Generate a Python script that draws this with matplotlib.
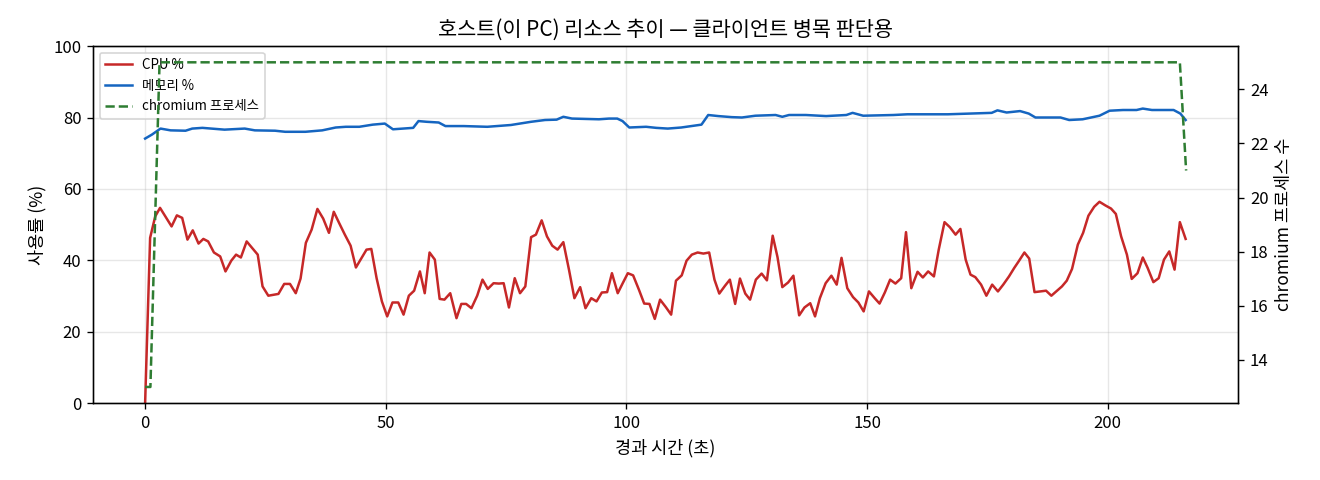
import matplotlib
matplotlib.use('Agg')
import matplotlib.pyplot as plt

plt.rcParams['font.family'] = ['Noto Sans CJK KR', 'DejaVu Sans']
plt.rcParams['axes.unicode_minus'] = False

cpu_t = [0, 1.04, 2.1, 3.1, 5.5, 6.6, 7.7, 8.8, 9.9, 11.1, 12.1, 13.1, 14.3, 15.6, 16.7, 17.9,
         18.9, 19.9, 21.1, 23.4, 24.4, 25.6, 27.7, 28.9, 30.1, 31.3, 32.3, 33.4, 34.6, 35.8,
         37.0, 38.2, 39.2, 40.3, 41.5, 42.7, 43.8, 46.0, 47.0, 48.1, 49.2, 50.3, 51.4, 52.6,
         53.7, 54.8, 55.9, 57.1, 58.1, 59.1, 60.2, 61.2, 62.2, 63.4, 64.7, 65.7, 66.7, 67.8,
         69.0, 70.1, 71.2, 72.4, 73.5, 74.5, 75.6, 76.8, 77.9, 79.0, 80.2, 81.2, 82.4, 83.5,
         84.6, 85.7, 86.9, 88.1, 89.2, 90.4, 91.5, 92.7, 93.8, 94.9, 96.0, 97.0, 98.2, 99.2,
         100.3, 101.4, 102.6, 103.7, 104.8, 105.9, 107.0, 108.2, 109.3, 110.3, 111.5, 112.5,
         113.6, 114.8, 116.0, 117.2, 118.3, 119.3, 120.5, 121.5, 122.6, 123.6, 124.7, 125.7,
         126.9, 128.1, 129.2, 130.4, 131.4, 132.4, 133.6, 134.7, 135.9, 137.0, 138.2, 139.2,
         140.2, 141.4, 142.6, 143.7, 144.7, 145.9, 147.1, 148.2, 149.3, 150.4, 151.6, 152.6,
         153.7, 154.8, 155.9, 157.1, 158.1, 159.2, 160.5, 161.6, 162.7, 163.9, 164.9, 166.1,
         167.2, 168.4, 169.4, 170.5, 171.5, 172.5, 173.7, 174.8, 176.0, 177.2, 178.3, 179.5,
         180.6, 181.5, 182.7, 183.7, 184.8, 186.0, 187.2, 188.3, 189.3, 190.5, 191.5, 192.6,
         193.8, 194.9, 196.0, 197.2, 198.3, 199.5, 200.7, 201.7, 202.8, 204.0, 205.0, 206.2,
         207.3, 208.3, 209.5, 210.6, 211.7, 212.8, 213.9, 215.0, 216.2]
cpu = [0, 46.3, 52.3, 54.7, 49.5, 52.6, 51.9, 45.8, 48.4, 44.7, 46.0, 45.3, 42.2, 41.1, 36.9, 39.9,
       41.6, 40.8, 45.3, 41.6, 32.7, 30.1, 30.6, 33.4, 33.4, 30.8, 34.9, 44.9, 48.6, 54.4,
       51.7, 47.7, 53.6, 50.5, 47.2, 44.1, 38.0, 43.0, 43.2, 35.0, 28.5, 24.3, 28.2, 28.2,
       24.8, 30.1, 31.5, 36.9, 30.8, 42.2, 40.2, 29.2, 29.0, 30.8, 23.8, 27.8, 27.8, 26.6,
       30.1, 34.6, 32.0, 33.6, 33.5, 33.6, 26.8, 35.0, 30.8, 32.7, 46.5, 47.2, 51.2, 46.7,
       44.1, 43.0, 45.1, 37.2, 29.4, 32.5, 26.6, 29.4, 28.5, 31.0, 31.1, 36.4, 30.8, 33.5,
       36.4, 35.8, 31.8, 27.9, 27.8, 23.6, 29.0, 26.9, 24.8, 34.3, 35.8, 39.9,
       41.6, 42.2, 41.9, 42.2, 34.6, 30.7, 32.9, 34.6, 27.8, 34.9, 30.7, 29.0,
       34.6, 36.3, 34.4, 46.9, 40.9, 32.5, 33.8, 35.7, 24.6, 26.8, 28.0, 24.3,
       29.4, 33.6, 35.7, 33.2, 40.7, 32.2, 29.7, 28.2, 25.7, 31.3, 29.4, 27.9,
       31.0, 34.6, 33.5, 35.0, 47.9, 32.2, 36.8, 35.2, 36.9, 35.5, 43.0, 50.7,
       49.3, 47.2, 48.8, 40.2, 36.0, 35.3, 33.2, 30.1, 33.2, 31.3, 33.2, 35.5,
       37.9, 39.7, 42.2, 40.5, 31.1, 31.3, 31.5, 30.1, 31.3, 32.7, 34.3, 37.6,
       44.4, 47.7, 52.5, 55.0, 56.4, 55.4, 54.5, 53.0, 46.7, 41.6, 34.8, 36.4,
       40.8, 37.9, 33.9, 35.0, 40.2, 42.5, 37.4, 50.7, 46.0]

mem_t = [0, 1.4, 3.2, 5.3, 8.4, 9.8, 11.9, 16.5, 20.7, 22.8, 27.0, 29.1, 33.3, 36.8, 39.6, 41.7,
         44.5, 47.3, 49.8, 51.5, 55.7, 56.8, 58.5, 61.0, 62.4, 66.2, 71.1, 76.0, 80.2, 83.1,
         85.5, 86.9, 88.7, 94.3, 96.4, 98.1, 99.2, 100.6, 104.1, 106.2, 108.6, 111.4, 115.6,
         117.0, 119.1, 121.9, 124.0, 126.8, 131.0, 132.4, 133.8, 137.3, 141.5, 145.7, 147.0,
         149.2, 155.5, 158.4, 166.8, 175.9, 177.1, 179.0, 181.8, 183.6, 185.0, 190.2, 192.0,
         194.8, 198.3, 200.4, 203.2, 206.0, 207.3, 209.2, 211.6, 213.7, 215.1, 216.2]
mem = [74.1, 75.2, 76.9, 76.4, 76.3, 76.9, 77.1, 76.6, 76.9, 76.4, 76.3, 76.0, 76.0, 76.4, 77.2, 77.4,
       77.4, 78.0, 78.3, 76.7, 77.1, 79.0, 78.8, 78.6, 77.6, 77.6, 77.4, 77.9, 78.8, 79.3,
       79.4, 80.2, 79.7, 79.5, 79.7, 79.7, 79.0, 77.2, 77.4, 77.1, 76.9, 77.2, 78.0,
       80.7, 80.4, 80.1, 80.0, 80.5, 80.7, 80.2, 80.7, 80.7, 80.4, 80.7, 81.3,
       80.5, 80.7, 80.9, 80.9, 81.3, 82.0, 81.4, 81.8, 81.1, 80.0, 80.0, 79.3,
       79.5, 80.5, 81.9, 82.1, 82.1, 82.5, 82.1, 82.1, 82.1, 81.1, 79.3]

proc_t = [0, 1.1, 3.0, 215.0, 216.3]
proc = [13, 13, 25, 25, 21]

fig, ax = plt.subplots(figsize=(11, 4), dpi=120)
fig.subplots_adjust(left=0.0705, right=0.938, top=0.904, bottom=0.16)

l1, = ax.plot(cpu_t, cpu, color='#c62828', lw=1.5, label='CPU %')
l2, = ax.plot(mem_t, mem, color='#1565c0', lw=1.5, label='메모리 %')
ax.set_ylim(0, 100)
ax.set_xlabel('경과 시간 (초)', fontsize=10.5)
ax.set_ylabel('사용률 (%)', fontsize=10.5)
ax.grid(alpha=0.3)

ax2 = ax.twinx()
l3, = ax2.plot(proc_t, proc, color='#2e7d32', lw=1.5, ls='--', label='chromium 프로세스')
ax2.set_ylabel('chromium 프로세스 수', fontsize=10.5)

ax.legend(handles=[l1, l2, l3], loc='upper left', fontsize=8)
ax.set_title('호스트(이 PC) 리소스 추이 — 클라이언트 병목 판단용', fontsize=12.5)

fig.savefig('out.png')
